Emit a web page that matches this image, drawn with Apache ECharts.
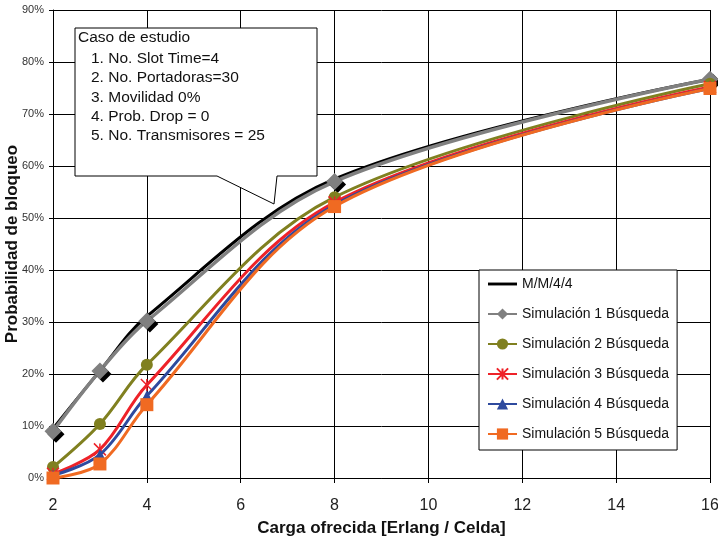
<!DOCTYPE html>
<html>
<head>
<meta charset="utf-8">
<script src="https://cdn.jsdelivr.net/npm/echarts@6/dist/echarts.min.js"></script>
<style>html,body{margin:0;padding:0;background:#fff}#c{width:718px;height:538px}</style>
</head>
<body>
<div id="c"></div>
<script>
const loads = [2, 3, 4, 8, 16];
const seriesNames = ['M/M/4/4', 'Simulación 1 Búsqueda', 'Simulación 2 Búsqueda', 'Simulación 3 Búsqueda', 'Simulación 4 Búsqueda', 'Simulación 5 Búsqueda'];
const mm44 = [0.095, 0.206, 0.311, 0.575, 0.767];
const sim1 = [0.090, 0.206, 0.302, 0.570, 0.767];
const sim2 = [0.021, 0.104, 0.218, 0.540, 0.758];
const sim3 = [0.008, 0.055, 0.179, 0.530, 0.752];
const sim4 = [0.005, 0.045, 0.158, 0.525, 0.749];
const sim5 = [0.000, 0.027, 0.141, 0.522, 0.749];
const calloutTitle = 'Caso de estudio';
const calloutLines = ['1. No. Slot Time=4', '2. No. Portadoras=30', '3. Movilidad 0%', '4. Prob. Drop = 0', '5. No. Transmisores = 25'];

const pair = arr => loads.map((x, i) => [x, arr[i]]);
const FONT = 'Liberation Sans, Arial, sans-serif';

const chart = echarts.init(document.getElementById('c'));
chart.setOption({
  animation: false,
  backgroundColor: '#fff',
  grid: { left: 53, right: 8, top: 10, bottom: 60, containLabel: false, outerBoundsMode: 'none' },
  xAxis: {
    type: 'value', min: 2, max: 16, interval: 2,
    name: 'Carga ofrecida [Erlang / Celda]', nameLocation: 'middle', nameGap: 42, nameMoveOverlap: false,
    nameTextStyle: { fontFamily: FONT, fontWeight: 'bold', fontSize: 17, color: '#111' },
    axisLine: { show: true, lineStyle: { color: '#000', width: 1 } },
    axisTick: { show: true, length: 5, lineStyle: { color: '#000' } },
    axisLabel: { fontFamily: FONT, fontSize: 16, color: '#222', margin: 20 },
    splitLine: { show: true, lineStyle: { color: '#000', width: 1 } }
  },
  yAxis: {
    type: 'value', min: 0, max: 0.9, interval: 0.1,
    name: 'Probabilidad de bloqueo', nameLocation: 'middle', nameGap: 32, nameMoveOverlap: false,
    nameTextStyle: { fontFamily: FONT, fontWeight: 'bold', fontSize: 17, color: '#111' },
    axisLine: { show: true, lineStyle: { color: '#000', width: 1 } },
    axisTick: { show: true, length: 4, lineStyle: { color: '#000' } },
    axisLabel: { fontFamily: FONT, fontSize: 11, color: '#333', margin: 9,
      formatter: v => Math.round(v * 100) + '%' },
    splitLine: { show: true, lineStyle: { color: '#000', width: 1 } }
  },
  legend: {
    orient: 'vertical', left: 479, top: 270,
    backgroundColor: '#fff', borderColor: '#000', borderWidth: 1,
    padding: [7, 8, 9, 8],
    itemWidth: 29, itemHeight: 14, itemGap: 16,
    textStyle: { fontFamily: FONT, fontSize: 14, color: '#111' },
    data: [
      { name: seriesNames[0], icon: 'path://M0,0H30V3H0Z' },
      seriesNames[1], seriesNames[2], seriesNames[3], seriesNames[4], seriesNames[5]
    ]
  },
  graphic: [
    {
      type: 'polygon', z: 100,
      shape: { points: [[75, 28], [317, 28], [317, 176], [277, 176], [274, 204], [217, 176], [75, 176]] },
      style: { fill: '#fff', stroke: '#000', lineWidth: 1 }
    },
    {
      type: 'text', z: 101, left: 78, top: 30,
      style: { text: calloutTitle, font: '15.5px ' + FONT, fill: '#111' }
    },
    {
      type: 'text', z: 101, left: 91, top: 49,
      style: { text: calloutLines.join('\n'), font: '15.5px ' + FONT, fill: '#111', lineHeight: 19.3 }
    }
  ],
  series: [
    { name: seriesNames[0], type: 'line', smooth: 0.35, data: pair(mm44), symbol: 'none',
      lineStyle: { color: '#000', width: 3 }, itemStyle: { color: '#000' }, z: 2 },
    { name: seriesNames[1], type: 'line', smooth: 0.35, data: pair(sim1), symbol: 'diamond', symbolSize: 17,
      lineStyle: { color: '#808080', width: 3.5 },
      itemStyle: { color: '#808080', shadowColor: '#000', shadowBlur: 0, shadowOffsetX: 3, shadowOffsetY: 3 }, z: 3 },
    { name: seriesNames[2], type: 'line', smooth: 0.35, data: pair(sim2), symbol: 'circle', symbolSize: 12,
      lineStyle: { color: '#808020', width: 3 }, itemStyle: { color: '#808020' }, z: 4 },
    { name: seriesNames[3], type: 'line', smooth: 0.35, data: pair(sim3),
      symbol: 'path://M0,0L10,10M10,0L0,10M5,0L5,10', symbolSize: 12,
      lineStyle: { color: '#ee2229', width: 3 },
      itemStyle: { color: 'rgba(0,0,0,0)', borderColor: '#ee2229', borderWidth: 1.5 }, z: 5 },
    { name: seriesNames[4], type: 'line', smooth: 0.35, data: pair(sim4), symbol: 'triangle', symbolSize: 11,
      lineStyle: { color: '#2e4a9e', width: 3 }, itemStyle: { color: '#2e4a9e' }, z: 6 },
    { name: seriesNames[5], type: 'line', smooth: 0.35, data: pair(sim5), symbol: 'rect', symbolSize: 13,
      lineStyle: { color: '#f06a22', width: 3 }, itemStyle: { color: '#f06a22' }, z: 7 }
  ]
});
</script>
</body>
</html>
